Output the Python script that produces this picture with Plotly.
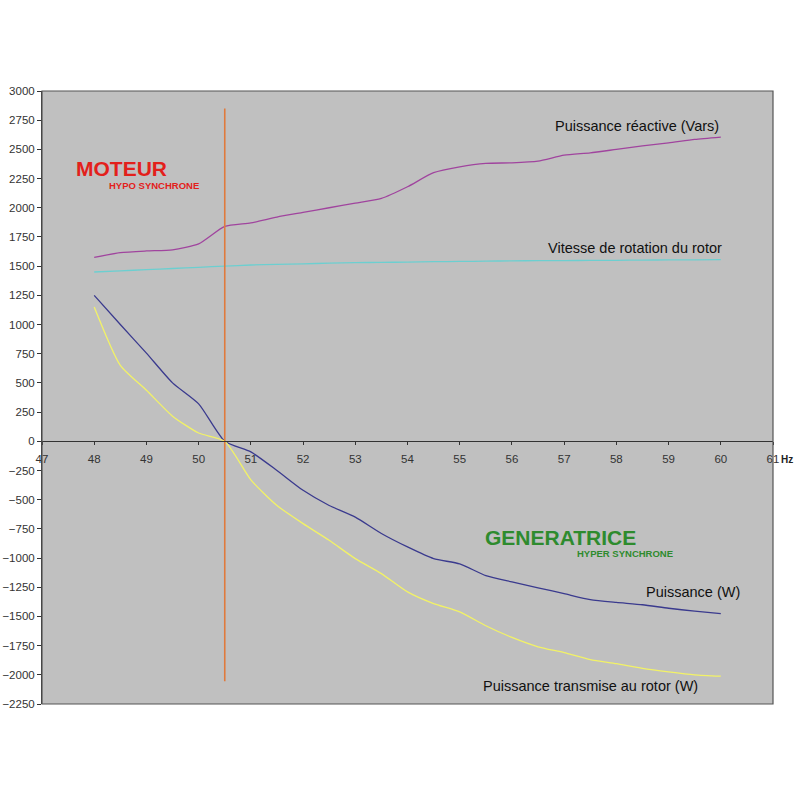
import plotly.graph_objects as go

# Frequency (Hz) sampled every 0.5 Hz
freq = [48, 48.5, 49, 49.5, 50, 50.5, 51, 51.5, 52, 52.5, 53, 53.5, 54,
        54.5, 55, 55.5, 56, 56.5, 57, 57.5, 58, 58.5, 59, 59.5, 60]

reactive_vars = [1575, 1615, 1630, 1640, 1690, 1840, 1870, 1920, 1960, 2000,
                 2040, 2080, 2180, 2300, 2350, 2380, 2385, 2400, 2450, 2470,
                 2500, 2530, 2555, 2585, 2605]

rotor_speed = [1450, 1460, 1470, 1480, 1490, 1500, 1510, 1515, 1520, 1525,
               1530, 1532, 1535, 1538, 1540, 1543, 1545, 1547, 1548, 1549,
               1550, 1552, 1553, 1554, 1555]

power_w = [1250, 1000, 755, 500, 320, 0, -91, -250, -420, -550, -650, -790,
           -905, -1005, -1050, -1150, -1205, -1255, -1305, -1356, -1380,
           -1400, -1430, -1455, -1476]

rotor_power_w = [1150, 650, 437, 215, 71, 0, -330, -550, -705, -848, -1005,
                 -1133, -1290, -1390, -1461, -1580, -1680, -1760, -1810,
                 -1870, -1905, -1945, -1975, -2000, -2012]

sync_freq = 50.5
sync_span = [-2055, 2850]

y_ticks = list(range(-2250, 3001, 250))
x_ticks = list(range(47, 62))

series = [
    (reactive_vars, "#a0449e"),
    (rotor_speed, "#6ccfd0"),
    (power_w, "#3a3a8e"),
    (rotor_power_w, "#f2f266"),
]

fig = go.Figure()

for values, color in series:
    fig.add_trace(go.Scatter(
        x=freq, y=values, mode="lines",
        line=dict(color=color, width=1.3, shape="spline", smoothing=0.6),
        showlegend=False,
    ))

# vertical line at synchronous frequency
fig.add_trace(go.Scatter(
    x=[sync_freq, sync_freq], y=sync_span, mode="lines",
    line=dict(color="#e07a3c", width=1.6), showlegend=False,
))

label_font = dict(family="Liberation Sans, Arial", size=14.5, color="#111111")

labels = [
    (60, 2697, "Puissance réactive (Vars)", "right"),
    (60.07, 1652, "Vitesse de rotation du rotor", "right"),
    (60.4, -1293, "Puissance (W)", "right"),
    (59.6, -2098, "Puissance transmise au rotor (W)", "right"),
]
for x, y, text, anchor in labels:
    fig.add_annotation(x=x, y=y, text=text, showarrow=False,
                       xanchor=anchor, yanchor="middle", font=label_font)

fig.add_annotation(x=47.62, y=2337, text="<b>MOTEUR</b>", showarrow=False,
                   xanchor="left", yanchor="middle",
                   font=dict(family="Liberation Sans, Arial", size=21, color="#e3201b"))
fig.add_annotation(x=48.25, y=2192, text="<b>HYPO SYNCHRONE</b>", showarrow=False,
                   xanchor="left", yanchor="middle",
                   font=dict(family="Liberation Sans Narrow, Arial", size=9.5, color="#e3201b"))
fig.add_annotation(x=55.45, y=-822, text="<b>GENERATRICE</b>", showarrow=False,
                   xanchor="left", yanchor="middle",
                   font=dict(family="Liberation Sans, Arial", size=21, color="#2e8b2e"))
fig.add_annotation(x=57.21, y=-959, text="<b>HYPER SYNCHRONE</b>", showarrow=False,
                   xanchor="left", yanchor="middle",
                   font=dict(family="Liberation Sans Narrow, Arial", size=9.5, color="#2e8b2e"))
fig.add_annotation(x=61, y=0, text="<b>Hz</b>", showarrow=False,
                   xanchor="left", yanchor="top", yshift=-11, xshift=6,
                   font=dict(family="Liberation Sans Narrow, Arial", size=10, color="#222222"))

zero_pos = (0 - y_ticks[0]) / (y_ticks[-1] - y_ticks[0])

fig.update_layout(
    width=800, height=800,
    paper_bgcolor="white", plot_bgcolor="#c0c0c0",
    margin=dict(l=42, r=27, t=91, b=96),
    font=dict(family="Liberation Sans, Arial", size=11, color="#333333"),
    xaxis=dict(
        range=[47, 61], tickvals=x_ticks, showgrid=False, zeroline=False,
        anchor="free", position=zero_pos, automargin=False,
        showline=True, linecolor="#333333", linewidth=1,
        ticks="outside", ticklen=3, tickcolor="#333333", ticklabelstandoff=4,
        tickfont=dict(size=11.5, color="#333333"),
    ),
    yaxis=dict(
        range=[y_ticks[0], y_ticks[-1]], tickvals=y_ticks, showgrid=False,
        zeroline=False, showline=True, linecolor="#333333", linewidth=1,
        ticks="outside", ticklen=4, tickcolor="#333333", automargin=False,
        tickfont=dict(size=11.5, color="#333333"),
    ),
    shapes=[dict(type="rect", xref="paper", yref="paper", x0=0, x1=1, y0=0, y1=1,
                 line=dict(color="#555555", width=1.2))],
)

fig.write_html("out.html", config={"displayModeBar": False},
               post_script="document.body.style.margin='0';")
